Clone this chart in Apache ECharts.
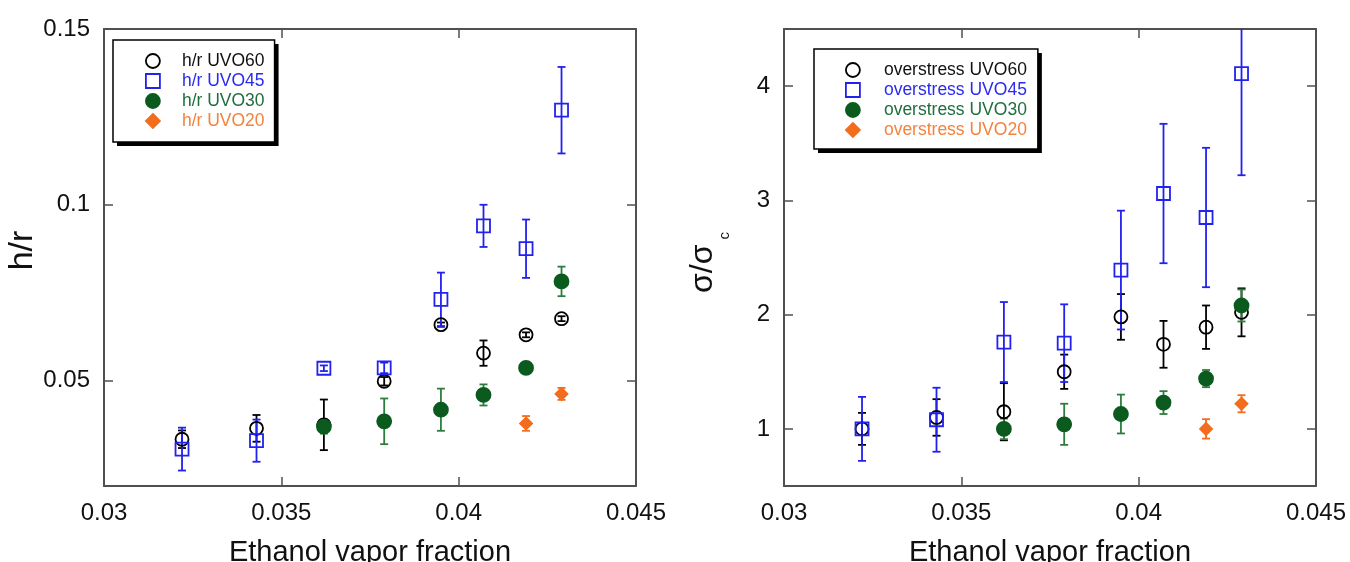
<!DOCTYPE html>
<html>
<head>
<meta charset="utf-8">
<script src="https://cdn.jsdelivr.net/npm/echarts@6/dist/echarts.min.js"></script>
<style>
  html, body { margin: 0; padding: 0; background: #fff; }
  #chart { width: 1350px; height: 562px; }
</style>
</head>
<body>
<div id="chart"></div>
<script>
// ethanol vapor fraction for every measurement column
const xVals = [0.0322, 0.0343, 0.0362, 0.0379, 0.0395, 0.0407, 0.0419, 0.0429]
const xTicks = [0.03, 0.035, 0.04, 0.045]

// left panel: h/r
const hr60 = [0.0333, 0.0364, 0.0374, 0.0498, 0.0659, 0.0578, 0.0630, 0.0676]
const hr60Err = [0.0025, 0.0038, 0.0072, 0.0012, 0.0006, 0.0036, 0.0007, 0.0007]
const hr45 = [0.0305, 0.0329, 0.0535, 0.0536, 0.0731, 0.0940, 0.0875, 0.1269]
const hr45Err = [0.0061, 0.0060, 0.0008, 0.0015, 0.0076, 0.0060, 0.0083, 0.0123]
const hr30 = [0.0369, 0.0384, 0.0417, 0.0459, 0.0536, 0.0782]   // from xVals[2]
const hr30Err = [0.0020, 0.0065, 0.0060, 0.0030, 0.0008, 0.0042]
const hr20 = [0.0378, 0.0462]                                   // from xVals[6]
const hr20Err = [0.0021, 0.0017]
const hrTicks = [0.05, 0.1, 0.15]

// right panel: overstress sigma/sigma_c
const os60 = [1.00, 1.10, 1.15, 1.50, 1.98, 1.74, 1.89, 2.02]
const os60Err = [0.14, 0.16, 0.25, 0.15, 0.20, 0.205, 0.19, 0.21]
const os45 = [1.00, 1.08, 1.76, 1.75, 2.39, 3.06, 2.85, 4.11]
const os45Err = [0.28, 0.28, 0.35, 0.34, 0.52, 0.61, 0.61, 0.89]
const os30 = [1.00, 1.04, 1.13, 1.23, 1.44, 2.08]               // from xVals[2]
const os30Err = [0.09, 0.18, 0.17, 0.10, 0.075, 0.14]
const os20 = [1.00, 1.22]                                       // from xVals[6]
const os20Err = [0.085, 0.075]
const osTicks = [1, 2, 3, 4]

const FONT = 'Liberation Sans'
const BLACK = '#000000'
const BLUE = '#2222ee'
const GREEN = '#0b5a1e'
const GREEN_BAR = '#2f7d3e'
const ORANGE = '#f26d1d'
const LW = 1.8

function pts(vals, start) {
  return vals.map((v, i) => [xVals[start + i], v])
}
function errPts(vals, errs, start) {
  return vals.map((v, i) => [xVals[start + i], v, errs[i]])
}

// vertical error bar with caps
function errorBar(color) {
  return function (params, api) {
    const x = api.value(0), y = api.value(1), e = api.value(2)
    const top = api.coord([x, y + e])
    const bot = api.coord([x, y - e])
    const hw = 4
    const style = { stroke: color, lineWidth: LW, fill: null }
    return {
      type: 'group',
      children: [
        { type: 'line', shape: { x1: top[0], y1: top[1], x2: bot[0], y2: bot[1] }, style: style },
        { type: 'line', shape: { x1: top[0] - hw, y1: top[1], x2: top[0] + hw, y2: top[1] }, style: style },
        { type: 'line', shape: { x1: bot[0] - hw, y1: bot[1], x2: bot[0] + hw, y2: bot[1] }, style: style }
      ]
    }
  }
}

function scatter(name, idx, data, symbol, size, fill, stroke) {
  return {
    name: name,
    type: 'scatter',
    xAxisIndex: idx,
    yAxisIndex: idx,
    data: data,
    symbol: symbol,
    symbolSize: size,
    itemStyle: { color: fill, borderColor: stroke, borderWidth: LW, opacity: 1 },
    z: 3,
    silent: true
  }
}
function bars(name, idx, data, color) {
  return {
    name: name,
    type: 'custom',
    xAxisIndex: idx,
    yAxisIndex: idx,
    data: data,
    clip: true,
    encode: { x: 0, y: 1 },
    itemStyle: { color: color },
    renderItem: errorBar(color),
    z: 2,
    silent: true
  }
}

const frameLine = { show: true, onZero: false, lineStyle: { color: '#505050', width: 2 } }
const tickIn = { show: true, inside: true, length: 9, lineStyle: { color: '#505050', width: 1.5 } }
const tickLabel = { color: '#111', fontSize: 24, fontFamily: FONT }

function xAxes(gridIndex) {
  return [
    {
      type: 'value', gridIndex: gridIndex, position: 'bottom',
      min: 0.03, max: 0.045, interval: 0.005,
      axisLine: frameLine, axisTick: tickIn, splitLine: { show: false },
      axisLabel: Object.assign({ margin: 15, customValues: xTicks }, tickLabel),
      name: 'Ethanol vapor fraction', nameLocation: 'middle', nameGap: 52,
      nameTextStyle: { color: '#111', fontSize: 29, fontFamily: FONT }
    },
    {
      type: 'value', gridIndex: gridIndex, position: 'top',
      min: 0.03, max: 0.045, interval: 0.005,
      axisLine: frameLine, axisTick: tickIn, splitLine: { show: false },
      axisLabel: { show: false }
    }
  ]
}

function yAxes(gridIndex, min, max, ticks, name, nameStyle, gap) {
  return [
    {
      type: 'value', gridIndex: gridIndex, position: 'left',
      min: min, max: max,
      axisLine: frameLine,
      axisTick: Object.assign({ customValues: ticks }, tickIn),
      splitLine: { show: false },
      axisLabel: Object.assign({ margin: 14, customValues: ticks }, tickLabel),
      name: name, nameLocation: 'middle', nameGap: gap, nameRotate: 90,
      nameTextStyle: nameStyle
    },
    {
      type: 'value', gridIndex: gridIndex, position: 'right',
      min: min, max: max,
      axisLine: frameLine,
      axisTick: Object.assign({ customValues: ticks }, tickIn),
      splitLine: { show: false },
      axisLabel: { show: false }
    }
  ]
}

// two stacked legends per panel: the lower one only casts the hard drop shadow,
// the upper one carries the border and the entries
function legendBox(left, top, names, colors, padding, textPad, shadow) {
  return {
    show: true,
    orient: 'vertical',
    left: left,
    top: top,
    z: shadow ? 3 : 4,
    padding: padding,
    itemGap: 2,
    itemWidth: 14,
    itemHeight: 14,
    backgroundColor: '#fff',
    borderColor: '#000',
    borderWidth: shadow ? 0 : 1.5,
    shadowColor: shadow ? '#000' : 'transparent',
    shadowBlur: 0,
    shadowOffsetX: shadow ? 4 : 0,
    shadowOffsetY: shadow ? 4 : 0,
    selectedMode: false,
    itemStyle: { borderWidth: LW },
    textStyle: { fontSize: 17.5, fontFamily: FONT, padding: [0, 0, 0, textPad] },
    data: names.map((n, i) => ({ name: n, textStyle: { color: colors[i] } }))
  }
}

const chart = echarts.init(document.getElementById('chart'))

const legendColors = ['#111', '#2a2af0', '#1f6e3e', '#f5823c']
const hrNames = ['h/r UVO60', 'h/r UVO45', 'h/r UVO30', 'h/r UVO20']
const osNames = ['overstress UVO60', 'overstress UVO45', 'overstress UVO30', 'overstress UVO20']

const option = {
  animation: false,
  backgroundColor: '#fff',
  grid: [
    { left: 104, top: 29, width: 532, height: 457, containLabel: false, outerBoundsMode: 'none' },
    { left: 784, top: 29, width: 532, height: 457, containLabel: false, outerBoundsMode: 'none' }
  ],
  xAxis: xAxes(0).concat(xAxes(1)),
  yAxis: yAxes(0, 0.02, 0.15, hrTicks, 'h/r',
    { color: '#111', fontSize: 34, fontFamily: FONT, padding: [0, 0, 0, 14] }, 64)
    .concat(yAxes(1, 0.5, 4.5, osTicks, '{a|σ/σ}{b|c}', {
      color: '#111', fontFamily: FONT, padding: [0, 10, 0, 0],
      rich: {
        a: { fontSize: 32, fontFamily: FONT, color: '#111', lineHeight: 32, verticalAlign: 'top' },
        b: { fontSize: 15, fontFamily: FONT, color: '#111', padding: [30, 0, 0, 5], verticalAlign: 'top' }
      }
    }, 52)),
  legend: [
    legendBox(113, 40, hrNames, legendColors, [12, 10, 12, 32], 17, true),
    legendBox(113, 40, hrNames, legendColors, [12, 10, 12, 32], 17, false),
    legendBox(814, 49, osNames, legendColors, [12, 11, 10, 31], 19, true),
    legendBox(814, 49, osNames, legendColors, [12, 11, 10, 31], 19, false)
  ],
  series: [
    // h/r panel: xAxis/yAxis 0 (frame mirrors are 1)
    bars('e60a', 0, errPts(hr60, hr60Err, 0), BLACK),
    bars('e45a', 0, errPts(hr45, hr45Err, 0), BLUE),
    bars('e30a', 0, errPts(hr30, hr30Err, 2), GREEN_BAR),
    bars('e20a', 0, errPts(hr20, hr20Err, 6), ORANGE),
    scatter(hrNames[0], 0, pts(hr60, 0), 'circle', 13, 'rgba(0,0,0,0)', BLACK),
    scatter(hrNames[1], 0, pts(hr45, 0), 'rect', 13, 'rgba(0,0,0,0)', BLUE),
    scatter(hrNames[2], 0, pts(hr30, 2), 'circle', 14, GREEN, GREEN),
    scatter(hrNames[3], 0, pts(hr20, 6), 'diamond', 12, ORANGE, ORANGE),
    // overstress panel: axes 2
    bars('e60b', 2, errPts(os60, os60Err, 0), BLACK),
    bars('e45b', 2, errPts(os45, os45Err, 0), BLUE),
    bars('e30b', 2, errPts(os30, os30Err, 2), GREEN_BAR),
    bars('e20b', 2, errPts(os20, os20Err, 6), ORANGE),
    scatter(osNames[0], 2, pts(os60, 0), 'circle', 13, 'rgba(0,0,0,0)', BLACK),
    scatter(osNames[1], 2, pts(os45, 0), 'rect', 13, 'rgba(0,0,0,0)', BLUE),
    scatter(osNames[2], 2, pts(os30, 2), 'circle', 14, GREEN, GREEN),
    scatter(osNames[3], 2, pts(os20, 6), 'diamond', 12, ORANGE, ORANGE)
  ]
}

chart.setOption(option)
</script>
</body>
</html>
